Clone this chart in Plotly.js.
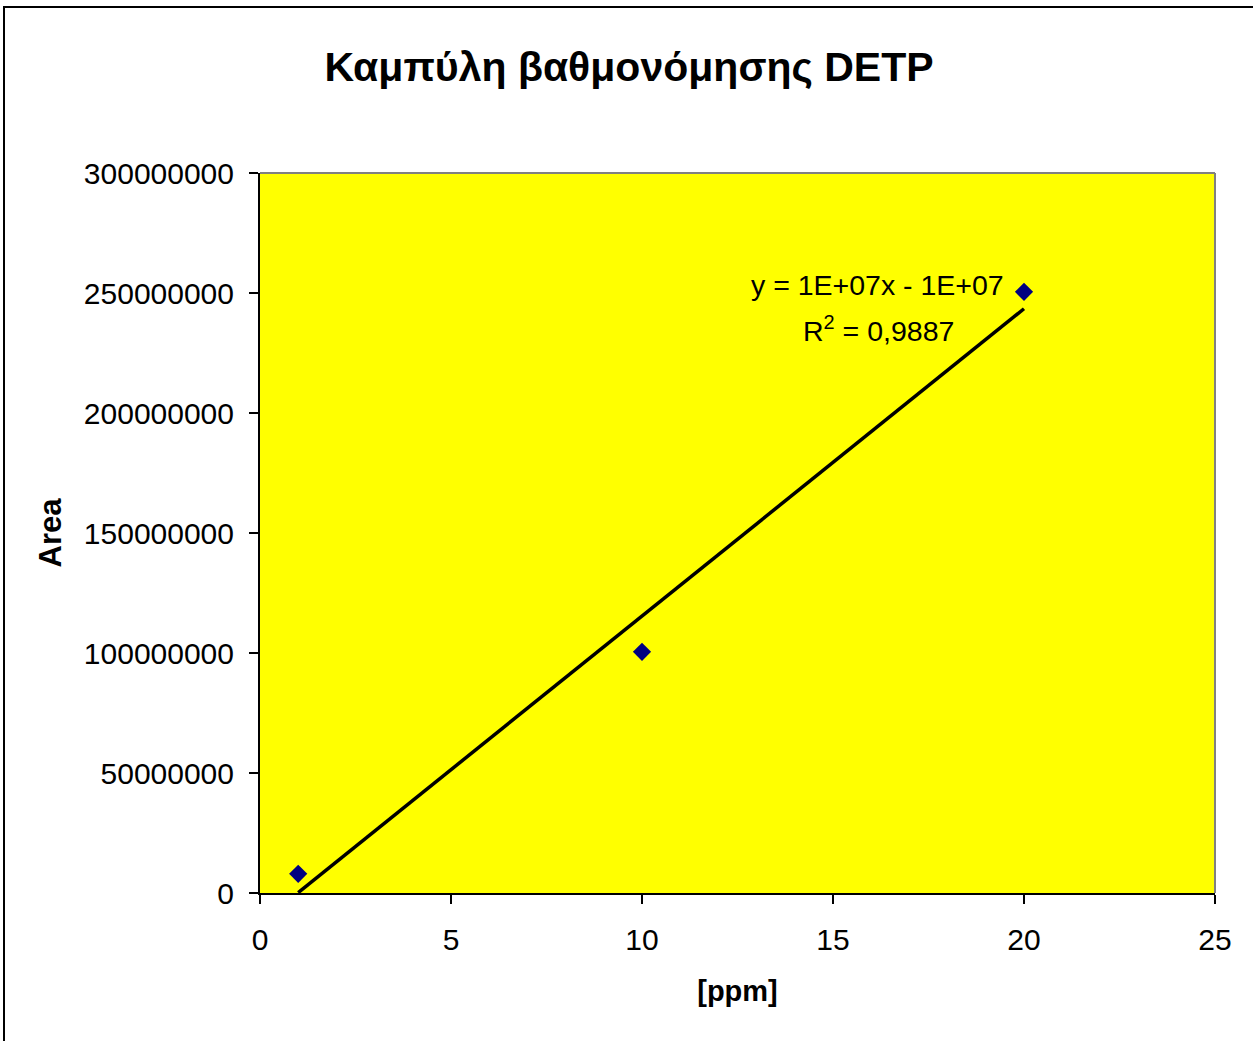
<!DOCTYPE html>
<html>
<head>
<meta charset="utf-8">
<script src="https://cdn.plot.ly/plotly-3.0.1.min.js"></script>
<style>
html,body{margin:0;padding:0;background:#fff;}
#chart{width:1253px;height:1041px;}
</style>
</head>
<body>
<div id="chart"></div>
<script>
// Data
const concentrations = [1, 10, 20];           // [ppm]
const areas = [8000000, 100500000, 250500000]; // Area
const xTickVals = [0, 5, 10, 15, 20, 25];
const yTickVals = [0, 50000000, 100000000, 150000000, 200000000, 250000000, 300000000];
const chartTitle = 'Καμπύλη βαθμονόμησης DETP';
const equationText = 'y = 1E+07x - 1E+07';
const r2Text = 'R<sup>2</sup> = 0,9887';

// Linear regression for the trendline
const n = concentrations.length;
const mx = concentrations.reduce((a,b)=>a+b,0)/n;
const my = areas.reduce((a,b)=>a+b,0)/n;
let sxy = 0, sxx = 0;
for (let i=0;i<n;i++){ sxy += (concentrations[i]-mx)*(areas[i]-my); sxx += (concentrations[i]-mx)**2; }
const slope = sxy/sxx, intercept = my - slope*mx;
const xmin = Math.min(...concentrations), xmax = Math.max(...concentrations);
const trendX = [xmin, xmax];
const trendY = trendX.map(x => slope*x + intercept);

// Layout pixel geometry
const W = 1253, H = 1041;
const L = 260, R = 38, T = 173, B = 148;
const pw = W - L - R, ph = H - T - B;
const px = v => (v - L)/pw;
const py = v => (H - B - v)/ph;

const font = 'Liberation Sans, Arial, sans-serif';

const traces = [
  {
    x: trendX, y: trendY, mode: 'lines', type: 'scatter',
    line: {color: '#000000', width: 3.5}, hoverinfo: 'skip', showlegend: false
  },
  {
    x: concentrations, y: areas, mode: 'markers', type: 'scatter',
    marker: {symbol: 'diamond', size: 14, color: '#000080', line: {width: 0}},
    showlegend: false
  }
];

const layout = {
  width: W, height: H,
  margin: {l: L, r: R, t: T, b: B, pad: 0},
  paper_bgcolor: '#ffffff',
  plot_bgcolor: '#ffff00',
  font: {family: font, color: '#000000'},
  title: {
    text: '<b>' + chartTitle + '</b>',
    font: {family: font, size: 41, color: '#000000'},
    x: px(629), xref: 'paper', y: 1 - 67/H, yanchor: 'middle', xanchor: 'center'
  },
  xaxis: {
    range: [0, 25], tickvals: xTickVals, ticktext: xTickVals.map(String),
    showgrid: false, zeroline: false,
    showline: true, linecolor: '#000000', linewidth: 2,
    ticks: 'outside', ticklen: 9, tickwidth: 2, tickcolor: '#000000',
    tickfont: {family: font, size: 30, color: '#000000'},
    ticklabelstandoff: 10,
    title: {text: '<b>[ppm]</b>', font: {family: font, size: 29, color: '#000000'}, standoff: 26},
    mirror: false, fixedrange: true
  },
  yaxis: {
    range: [0, 300000000], tickvals: yTickVals, ticktext: yTickVals.map(v => String(v)),
    showgrid: false, zeroline: false,
    showline: true, linecolor: '#000000', linewidth: 2,
    ticks: 'outside', ticklen: 9, tickwidth: 2, tickcolor: '#000000',
    tickfont: {family: font, size: 30, color: '#000000'},
    ticklabelstandoff: 9,
    title: {text: '<b>Area</b>', font: {family: font, size: 31, color: '#000000'}, standoff: 13},
    fixedrange: true
  },
  shapes: [
    // grey plot-area border (top and right)
    {type: 'line', xref: 'paper', yref: 'paper', x0: 0, x1: 1, y0: 1, y1: 1, line: {color: '#808080', width: 2}},
    {type: 'line', xref: 'paper', yref: 'paper', x0: 1, x1: 1, y0: 0, y1: 1, line: {color: '#808080', width: 2}},
    // outer chart frame
    {type: 'rect', xref: 'paper', yref: 'paper', x0: px(4), x1: px(1270), y0: py(1060), y1: py(7),
     line: {color: '#000000', width: 2}, fillcolor: 'rgba(0,0,0,0)', layer: 'above'}
  ],
  annotations: [
    {xref: 'paper', yref: 'paper', x: px(877), y: py(285), xanchor: 'center', yanchor: 'middle',
     text: equationText, showarrow: false, font: {family: font, size: 28.5, color: '#000000'}},
    {xref: 'paper', yref: 'paper', x: px(878), y: py(329), xanchor: 'center', yanchor: 'middle',
     text: r2Text, showarrow: false, font: {family: font, size: 28.5, color: '#000000'}}
  ],
  showlegend: false
};

Plotly.newPlot('chart', traces, layout, {displayModeBar: false, staticPlot: true});
</script>
</body>
</html>
